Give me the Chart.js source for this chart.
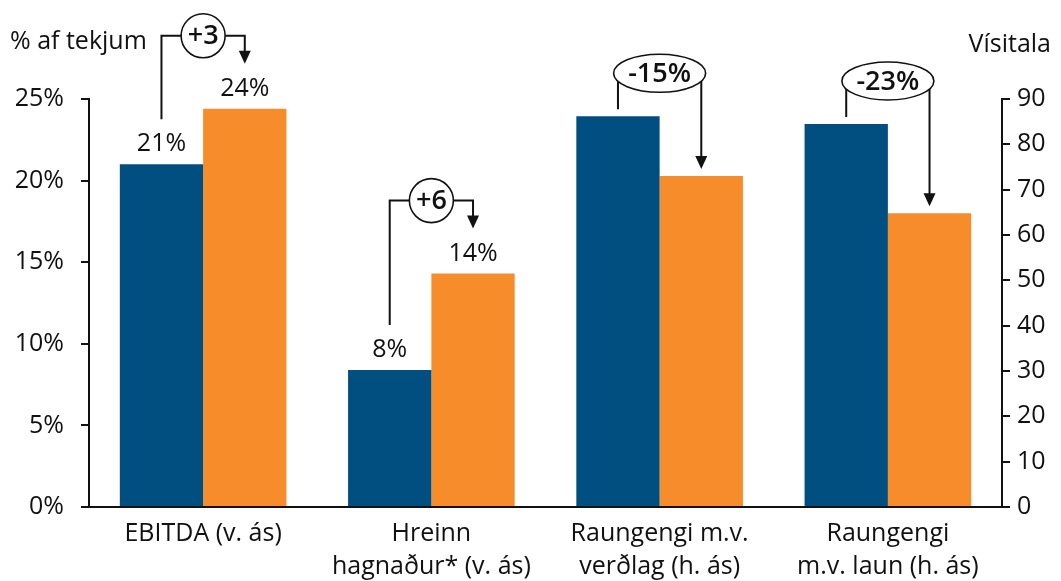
<!DOCTYPE html>
<html lang="is">
<head>
    <meta charset="UTF-8">
    <title>Raungengi og afkoma</title>
    <script src="https://cdn.jsdelivr.net/npm/chart.js"></script>
    <style>
        html, body { margin: 0; padding: 0; background: #fff; }
        #wrap { width: 1061px; height: 581px; position: relative; }
    </style>
</head>
<body>
<div id="wrap"><canvas id="chart"></canvas></div>
<script>
    // Gögn lesin af myndinni
    const flokkar = [
        ['EBITDA (v. ás)'],
        ['Hreinn', 'hagnaður* (v. ás)'],
        ['Raungengi m.v.', 'verðlag (h. ás)'],
        ['Raungengi', 'm.v. laun (h. ás)']
    ];
    const asar = ['left', 'left', 'right', 'right'];
    const fyrra = [21.0, 8.4, 86.2, 84.5];
    const seinna = [24.4, 14.3, 73.0, 64.8];
    const merkiFyrra = ['21%', '8%', null, null];
    const merkiSeinna = ['24%', '14%', null, null];
    const breyting = ['+3', '+6', '-15%', '-23%'];
    const vinstriTikk = [0, 5, 10, 15, 20, 25];
    const haegriTikk = [0, 10, 20, 30, 40, 50, 60, 70, 80, 90];

    const BLAR = '#004f80';
    const APPELSINA = '#f78d2a';
    const LETUR = '"Open Sans", "DejaVu Sans", sans-serif';

    const byAxis = (vals, ax) => vals.map((v, i) => asar[i] === ax ? v : null);

    // Ásatitlar, gildismerki og örvar með breytingu
    const skyringar = {
        id: 'skyringar',
        afterDatasetsDraw(chart) {
            const ctx = chart.ctx;
            const m0 = chart.getDatasetMeta(0), m1 = chart.getDatasetMeta(1);
            const m2 = chart.getDatasetMeta(2), m3 = chart.getDatasetMeta(3);
            ctx.save();
            ctx.fillStyle = '#111';
            ctx.font = '25px ' + LETUR;
            ctx.textBaseline = 'middle';
            ctx.textAlign = 'left';
            ctx.fillText('% af tekjum', 10, 42);
            ctx.textAlign = 'right';
            ctx.fillText('Vísitala', 1051, 45);

            ctx.textAlign = 'center';
            flokkar.forEach((c, i) => {
                const b = asar[i] === 'left' ? m0.data[i] : m2.data[i];
                const o = asar[i] === 'left' ? m1.data[i] : m3.data[i];
                if (merkiFyrra[i]) ctx.fillText(merkiFyrra[i], b.x, b.y - 20);
                if (merkiSeinna[i]) ctx.fillText(merkiSeinna[i], o.x, o.y - 20);
            });

            ctx.strokeStyle = '#111';
            const arrow = (x, y) => {
                ctx.beginPath();
                ctx.moveTo(x - 6, y - 13);
                ctx.lineTo(x + 6, y - 13);
                ctx.lineTo(x, y);
                ctx.closePath();
                ctx.fill();
            };
            flokkar.forEach((c, i) => {
                const b = asar[i] === 'left' ? m0.data[i] : m2.data[i];
                const o = asar[i] === 'left' ? m1.data[i] : m3.data[i];
                const cx = (b.x + o.x) / 2;
                ctx.lineWidth = 2;
                if (asar[i] === 'left') {
                    const cy = o.y - 73, r = 22;
                    const tip = o.y - 45;
                    ctx.beginPath();
                    ctx.moveTo(b.x, b.y - 45);
                    ctx.lineTo(b.x, cy);
                    ctx.lineTo(cx - r, cy);
                    ctx.moveTo(cx + r, cy);
                    ctx.lineTo(o.x, cy);
                    ctx.lineTo(o.x, tip - 10);
                    ctx.stroke();
                    arrow(o.x, tip);
                    ctx.beginPath();
                    ctx.arc(cx, cy, r, 0, Math.PI * 2);
                    ctx.fillStyle = '#fff';
                    ctx.fill();
                    ctx.lineWidth = 1.6;
                    ctx.stroke();
                    ctx.fillStyle = '#111';
                    ctx.font = '600 27px ' + LETUR;
                    ctx.fillText(breyting[i], cx, cy + 1);
                } else {
                    const cy = b.y - 43, rx = 46, ry = 19;
                    const edge = x => cy + ry * Math.sqrt(Math.max(0, 1 - Math.pow((x - cx) / rx, 2)));
                    const tip = o.y - 7;
                    ctx.beginPath();
                    ctx.moveTo(b.x, edge(b.x));
                    ctx.lineTo(b.x, b.y - 7);
                    ctx.moveTo(o.x, edge(o.x));
                    ctx.lineTo(o.x, tip - 10);
                    ctx.stroke();
                    arrow(o.x, tip);
                    ctx.beginPath();
                    ctx.ellipse(cx, cy, rx, ry, 0, 0, Math.PI * 2);
                    ctx.fillStyle = '#fff';
                    ctx.fill();
                    ctx.lineWidth = 1.6;
                    ctx.stroke();
                    ctx.fillStyle = '#111';
                    ctx.font = '600 27px ' + LETUR;
                    ctx.fillText(breyting[i], cx, cy + 1);
                }
            });
            ctx.restore();
        }
    };

    new Chart(document.getElementById('chart'), {
        type: 'bar',
        data: {
            labels: flokkar,
            datasets: [
                { data: byAxis(fyrra, 'left'), backgroundColor: BLAR, yAxisID: 'y' },
                { data: byAxis(seinna, 'left'), backgroundColor: APPELSINA, yAxisID: 'y' },
                { data: byAxis(fyrra, 'right'), backgroundColor: BLAR, yAxisID: 'y2' },
                { data: byAxis(seinna, 'right'), backgroundColor: APPELSINA, yAxisID: 'y2' }
            ]
        },
        options: {
            responsive: true,
            maintainAspectRatio: false,
            animation: false,
            skipNull: true,
            categoryPercentage: 0.73,
            barPercentage: 1.0,
            layout: { padding: { top: 99, left: 0, right: 0, bottom: 0 } },
            plugins: { legend: { display: false }, tooltip: { enabled: false } },
            scales: {
                x: {
                    grid: { display: false, drawTicks: false },
                    border: { color: '#111', width: 2 },
                    ticks: { color: '#111', padding: 10, font: { family: LETUR, size: 25, lineHeight: 1.32 }, maxRotation: 0, autoSkip: false },
                    afterFit: s => { s.height = 74; }
                },
                y: {
                    position: 'left',
                    min: 0, max: 25,
                    afterBuildTicks: s => { s.ticks = vinstriTikk.map(v => ({ value: v })); },
                    grid: { drawOnChartArea: false, drawTicks: true, tickLength: 8, color: '#111', lineWidth: 2 },
                    border: { color: '#111', width: 2 },
                    ticks: { color: '#111', padding: 17, font: { family: LETUR, size: 25 }, callback: v => v + '%' },
                    afterFit: s => { s.width = 89; }
                },
                y2: {
                    position: 'right',
                    min: 0, max: 90,
                    afterBuildTicks: s => { s.ticks = haegriTikk.map(v => ({ value: v })); },
                    grid: { drawOnChartArea: false, drawTicks: true, tickLength: 8, color: '#111', lineWidth: 2 },
                    border: { color: '#111', width: 2 },
                    ticks: { color: '#111', padding: 7, font: { family: LETUR, size: 25 } },
                    afterFit: s => { s.width = 59; }
                }
            }
        },
        plugins: [skyringar]
    });
</script>
</body>
</html>
